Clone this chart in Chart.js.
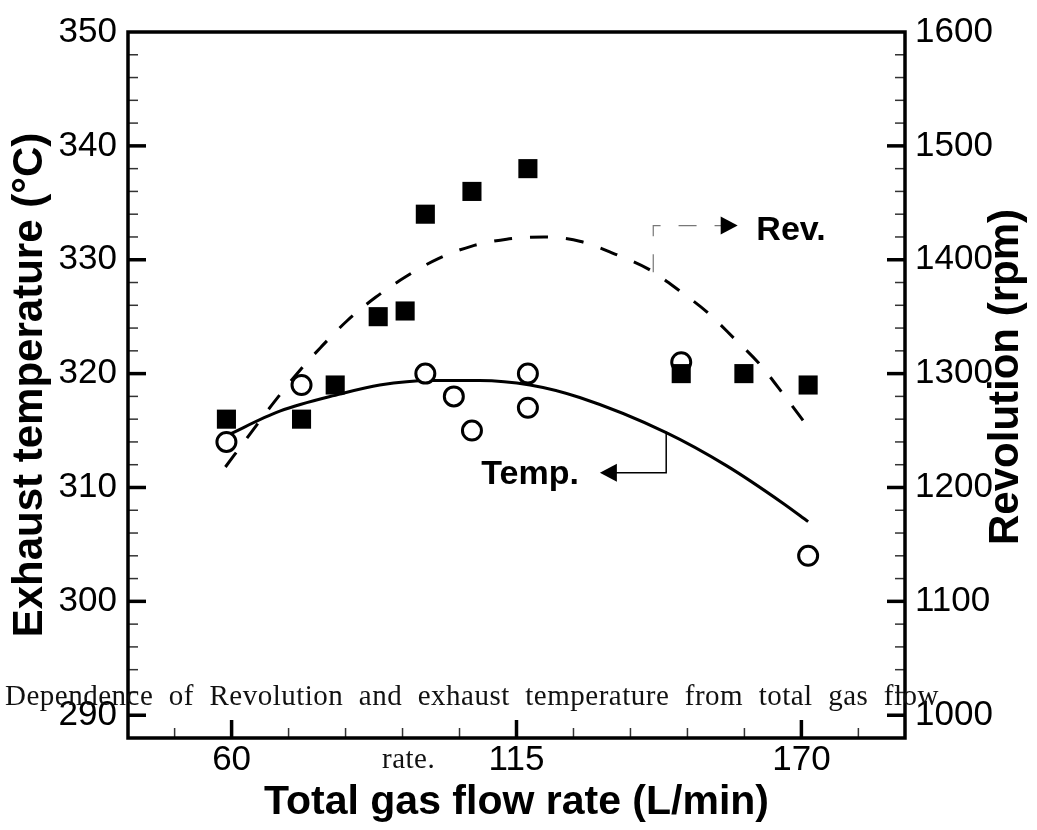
<!DOCTYPE html>
<html>
<head>
<meta charset="utf-8">
<title>Revolution and exhaust temperature</title>
<script src="https://cdn.jsdelivr.net/npm/chart.js@4.4.0/dist/chart.umd.min.js"></script>
<style>
    html, body { margin: 0; padding: 0; background: #fff; }
    .wrap { position: relative; width: 1037px; height: 830px; }
    canvas { display: block; }
    .caption {
        position: absolute;
        font-family: "Liberation Serif", serif;
        font-size: 29px;
        line-height: 29px;
        color: #111;
        letter-spacing: 0.5px;
    }
    .line1 { left: 5px; top: 681px; width: 934px; text-align: justify; text-align-last: justify; }
    .line2 { left: 382px; top: 744px; }
</style>
</head>
<body>
<div class="wrap">
    <canvas id="flowChart" width="1037" height="830"></canvas>
    <div class="caption line1">Dependence of Revolution and exhaust temperature from total gas flow</div>
    <div class="caption line2">rate.</div>
</div>

<script>
/*============================
  TOTAL GAS FLOW vs REV / TEMP
=============================*/

// axis tick labels
let flowTicks = [60, 115, 170];
let tempTicks = [290, 300, 310, 320, 330, 340, 350];
let rpmTicks = [1000, 1100, 1200, 1300, 1400, 1500, 1600];

// measured exhaust temperature (open circles)
let tempFlow = [59, 73.5, 97.4, 102.9, 106.4, 117.2, 117.2, 146.8, 171.3];
let tempValues = [314, 319, 320, 318, 315, 320, 317, 321, 304];

// measured revolution (filled squares)
let revFlow = [59, 73.5, 80, 88.3, 93.5, 97.4, 106.4, 117.2, 146.8, 158.9, 171.3];
let revValues = [1260, 1260, 1290, 1350, 1355, 1440, 1460, 1480, 1300, 1300, 1290];

// fitted temperature curve (solid)
let tempFitFlow = [58.8, 69.3, 80.9, 88.6, 98.3, 107.9, 117.6, 127.2, 144.0, 155.6, 166.5, 171.3];
let tempFitValues = [314.5, 316.7, 318.2, 319.0, 319.4, 319.4, 319.0, 317.9, 314.8, 311.9, 308.6, 307.0];

// fitted revolution curve (dashed)
let revFitFlow = [58.8, 63.9, 68.2, 73.2, 77.2, 82.2, 87.8, 93.6, 99.9, 106.4, 113.1, 120.3, 127.4, 134.0, 140.4, 146.4, 151.8, 157.0, 161.8, 166.5, 171.3];
let revFitValues = [1218, 1249, 1275, 1303, 1323, 1346, 1367, 1385, 1401, 1412, 1418, 1420, 1416, 1405, 1392, 1373, 1354, 1331, 1309, 1282, 1253];

// where the curve labels sit, in data units
let revNote = { x: 141.4, from: 1389, to: 1430, tip: 157.7, textX: 161.3, textY: 1417 };
let tempNote = { x: 143.9, from: 314.9, to: 311.3, tip: 131.1, textX: 108.2, textY: 310.3 };

let sans = '"Liberation Sans", Arial, sans-serif';


function toPoints(xs, ys) {
    return xs.map((x, i) => ({ x: x, y: ys[i] }));
}

// majors plus 4 minor ticks in between, across the whole range
function withMinor(majors, min, max) {
    let step = (majors[1] - majors[0]) / 5;
    let values = [];
    for (let v = majors[0]; v > min + 1e-6; v -= step) values.unshift(Math.round(v * 100) / 100);
    for (let v = majors[0] + step; v <= max + 1e-6; v += step) values.push(Math.round(v * 100) / 100);
    return values;
}

function tickSetup(majors) {
    return {
        afterBuildTicks(scale) {
            scale.ticks = withMinor(majors, scale.min, scale.max).map(v => ({ value: v }));
        },
        label(value) {
            return majors.includes(value) ? String(value) : '';
        }
    };
}

let xTicks = tickSetup(flowTicks);
let yTicks = tickSetup(tempTicks);
let y2Ticks = tickSetup(rpmTicks);


function arrowHead(ctx, tipX, y, dir) {
    ctx.beginPath();
    ctx.moveTo(tipX, y);
    ctx.lineTo(tipX - dir * 17, y - 9);
    ctx.lineTo(tipX - dir * 17, y + 9);
    ctx.closePath();
    ctx.fill();
}

// frame with inward tick marks, pointer arrows and the right-hand title
let frameTicks = {
    id: 'frameTicks',
    beforeDatasetsDraw(chart) {
        let { ctx, chartArea: a, scales } = chart;
        ctx.save();

        function mark(x1, y1, x2, y2, major) {
            ctx.lineWidth = major ? 3.5 : 1.5;
            ctx.strokeStyle = major ? '#000' : '#333';
            ctx.beginPath();
            ctx.moveTo(x1, y1);
            ctx.lineTo(x2, y2);
            ctx.stroke();
        }

        scales.x.ticks.forEach(t => {
            let px = scales.x.getPixelForValue(t.value);
            let major = flowTicks.includes(t.value);
            mark(px, a.bottom, px, a.bottom - (major ? 18 : 10), major);
        });
        scales.y.ticks.forEach(t => {
            if (t.value >= scales.y.max) return;
            let py = scales.y.getPixelForValue(t.value);
            let major = tempTicks.includes(t.value);
            mark(a.left, py, a.left + (major ? 18 : 10), py, major);
        });
        scales.y2.ticks.forEach(t => {
            if (t.value >= scales.y2.max) return;
            let py = scales.y2.getPixelForValue(t.value);
            let major = rpmTicks.includes(t.value);
            mark(a.right, py, a.right - (major ? 18 : 10), py, major);
        });

        ctx.lineWidth = 3.5;
        ctx.strokeStyle = '#000';
        ctx.strokeRect(a.left, a.top, a.right - a.left, a.bottom - a.top);
        ctx.restore();
    },
    afterDraw(chart) {
        let { ctx, scales } = chart;
        let x = scales.x, y = scales.y, y2 = scales.y2;
        ctx.save();

        // Rev. pointer, grey dashed
        let rx = x.getPixelForValue(revNote.x);
        let ry = y2.getPixelForValue(revNote.to);
        let tip = x.getPixelForValue(revNote.tip);
        ctx.strokeStyle = '#777';
        ctx.fillStyle = '#000';
        ctx.lineWidth = 1.2;
        ctx.setLineDash([18, 18]);
        ctx.beginPath();
        ctx.moveTo(rx, y2.getPixelForValue(revNote.from));
        ctx.lineTo(rx, ry);
        ctx.lineTo(tip - 16, ry);
        ctx.stroke();
        ctx.setLineDash([]);
        arrowHead(ctx, tip, ry, 1);

        // Temp. pointer, thin solid
        let tx = x.getPixelForValue(tempNote.x);
        let ty = y.getPixelForValue(tempNote.to);
        let ttip = x.getPixelForValue(tempNote.tip);
        ctx.strokeStyle = '#000';
        ctx.lineWidth = 1.5;
        ctx.beginPath();
        ctx.moveTo(tx, y.getPixelForValue(tempNote.from));
        ctx.lineTo(tx, ty);
        ctx.lineTo(ttip + 16, ty);
        ctx.stroke();
        arrowHead(ctx, ttip, ty, -1);

        ctx.font = 'bold 34px ' + sans;
        ctx.textAlign = 'left';
        ctx.textBaseline = 'alphabetic';
        ctx.fillText('Rev.', x.getPixelForValue(revNote.textX), y2.getPixelForValue(revNote.textY));
        ctx.fillText('Temp.', x.getPixelForValue(tempNote.textX), y.getPixelForValue(tempNote.textY));

        // right axis title reads bottom-to-top like the left one
        ctx.font = 'bold 42px ' + sans;
        ctx.textAlign = 'center';
        ctx.textBaseline = 'middle';
        ctx.translate(chart.width - 31, (chart.chartArea.top + chart.chartArea.bottom) / 2 - 8);
        ctx.rotate(-Math.PI / 2);
        ctx.fillText('Revolution (rpm)', 0, 0);
        ctx.restore();
    }
};


function displayFlowChart() {
    let flowCtx = document.querySelector('#flowChart').getContext('2d');
    let flowChart = new Chart(flowCtx, {
        type: 'scatter',
        data: {
            datasets: [{
                label: 'Rev. fit',
                data: toPoints(revFitFlow, revFitValues),
                yAxisID: 'y2',
                showLine: true,
                borderColor: '#000',
                borderWidth: 3,
                borderDash: [18, 18],
                pointRadius: 0,
                cubicInterpolationMode: 'monotone',
                order: 3
            }, {
                label: 'Temp. fit',
                data: toPoints(tempFitFlow, tempFitValues),
                yAxisID: 'y',
                showLine: true,
                borderColor: '#000',
                borderWidth: 3,
                pointRadius: 0,
                cubicInterpolationMode: 'monotone',
                order: 2
            }, {
                label: 'Temp.',
                data: toPoints(tempFlow, tempValues),
                yAxisID: 'y',
                pointStyle: 'circle',
                pointRadius: 9.5,
                pointBorderWidth: 3,
                pointBorderColor: '#000',
                pointBackgroundColor: '#fff',
                order: 1
            }, {
                label: 'Rev.',
                data: toPoints(revFlow, revValues),
                yAxisID: 'y2',
                pointStyle: 'rect',
                pointRadius: 13.5,
                pointBorderWidth: 0,
                pointBackgroundColor: '#000',
                order: 0
            }]
        },
        options: {
            responsive: false,
            animation: false,
            devicePixelRatio: 1,
            layout: { padding: { top: 28, left: 0, right: 0, bottom: 0 } },
            plugins: {
                legend: { display: false },
                tooltip: { enabled: false }
            },
            scales: {
                x: {
                    type: 'linear',
                    min: 40,
                    max: 190,
                    afterBuildTicks: xTicks.afterBuildTicks,
                    afterFit(scale) { scale.height = 92; },
                    grid: { display: false, drawTicks: false },
                    border: { display: false },
                    ticks: {
                        autoSkip: false,
                        maxRotation: 0,
                        padding: 1,
                        color: '#000',
                        font: { family: sans, size: 35 },
                        callback: xTicks.label
                    },
                    title: {
                        display: true,
                        text: 'Total gas flow rate (L/min)',
                        color: '#000',
                        font: { family: sans, size: 41, weight: 'bold' },
                        padding: { top: 0, bottom: 3 }
                    }
                },
                y: {
                    type: 'linear',
                    position: 'left',
                    min: 288,
                    max: 350,
                    afterBuildTicks: yTicks.afterBuildTicks,
                    afterFit(scale) { scale.width = 128; },
                    grid: { display: false, drawTicks: false },
                    border: { display: false },
                    ticks: {
                        autoSkip: false,
                        padding: 11,
                        color: '#000',
                        font: { family: sans, size: 35 },
                        callback: yTicks.label
                    },
                    title: {
                        display: true,
                        text: 'Exhaust temperature (°C)',
                        color: '#000',
                        font: { family: sans, size: 42, weight: 'bold' },
                        padding: { top: 5, bottom: 0 }
                    }
                },
                y2: {
                    type: 'linear',
                    position: 'right',
                    min: 980,
                    max: 1600,
                    afterBuildTicks: y2Ticks.afterBuildTicks,
                    afterFit(scale) { scale.width = 132; },
                    grid: { display: false, drawTicks: false },
                    border: { display: false },
                    ticks: {
                        autoSkip: false,
                        padding: 10,
                        color: '#000',
                        font: { family: sans, size: 35 },
                        callback: y2Ticks.label
                    }
                }
            }
        },
        plugins: [frameTicks]
    });
}
displayFlowChart();
</script>
</body>
</html>
